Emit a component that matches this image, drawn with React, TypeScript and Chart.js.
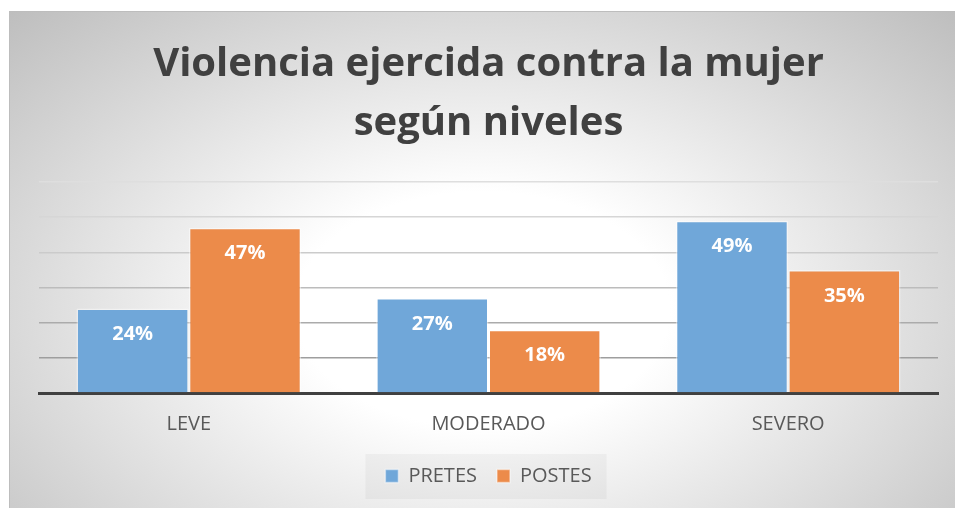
import React, { useEffect, useRef } from "react";
import { Chart, registerables } from "chart.js";

Chart.register(...registerables);

const categories = ["LEVE", "MODERADO", "SEVERO"];
const pretes = [24, 27, 49];
const postes = [47, 18, 35];
const seriesNames = ["PRETES", "POSTES"];
const titleLines = ["Violencia ejercida contra la mujer", "según niveles"];
const yMax = 60;
const yStep = 10;

const FONT = "'Open Sans', 'Liberation Sans', sans-serif";

const gridColors: Record<number, string> = {
  60: "#dedede",
  50: "#d6d6d6",
  40: "#cbcbcb",
  30: "#bcbcbc",
  20: "#ababab",
  10: "#9e9e9e",
  0: "#9e9e9e",
};

const dataLabelPlugin = {
  id: "dataLabels",
  afterDatasetsDraw(chart: any) {
    const ctx = chart.ctx;
    ctx.save();
    ctx.fillStyle = "#ffffff";
    ctx.font = `bold 20px ${FONT}`;
    ctx.textAlign = "center";
    ctx.textBaseline = "middle";
    chart.data.datasets.forEach((ds: any, di: number) => {
      const meta = chart.getDatasetMeta(di);
      meta.data.forEach((bar: any, i: number) => {
        ctx.fillText(ds.data[i] + "%", bar.x, bar.y + 26);
      });
    });
    ctx.restore();
  },
};

const legendBgPlugin = {
  id: "legendBg",
  beforeDraw(chart: any) {
    const lg = chart.legend;
    if (!lg || !lg.legendHitBoxes || !lg.legendHitBoxes.length) return;
    const boxes = lg.legendHitBoxes;
    const minX = Math.min(...boxes.map((b: any) => b.left));
    const maxX = Math.max(...boxes.map((b: any) => b.left + b.width));
    const cy = boxes[0].top + boxes[0].height / 2;
    const ctx = chart.ctx;
    ctx.save();
    ctx.fillStyle = "rgba(0,0,0,0.035)";
    ctx.fillRect(minX - 20, cy - 22, maxX - minX + 35, 45);
    ctx.restore();
  },
};

export default function App() {
  const ref = useRef<HTMLCanvasElement>(null);
  useEffect(() => {
    if (!ref.current) return;
    const chart = new Chart(ref.current, {
      type: "bar",
      data: {
        labels: categories,
        datasets: [
          {
            label: seriesNames[0],
            data: pretes,
            backgroundColor: "#70A7D9",
            borderColor: "rgba(255,255,255,0.45)",
            borderWidth: 1.5,
            categoryPercentage: 0.75,
            barPercentage: 1,
          },
          {
            label: seriesNames[1],
            data: postes,
            backgroundColor: "#EC8B4A",
            borderColor: "rgba(255,255,255,0.45)",
            borderWidth: 1.5,
            categoryPercentage: 0.75,
            barPercentage: 1,
          },
        ],
      },
      options: {
        animation: false,
        responsive: false,
        maintainAspectRatio: false,
        layout: { padding: { left: 39, right: 17, top: 0, bottom: 12 } },
        plugins: {
          title: {
            display: true,
            text: titleLines,
            color: "#404040",
            font: { family: FONT, size: 40, weight: "bold", lineHeight: 1.475 },
            padding: { top: 35, bottom: 29 },
          },
          legend: {
            display: true,
            position: "bottom",
            labels: {
              color: "#595959",
              font: { family: FONT, size: 20 },
              boxWidth: 13,
              boxHeight: 13,
              padding: 20,
            },
          },
          tooltip: { enabled: false },
        },
        scales: {
          x: {
            z: 1,
            grid: { display: false, drawTicks: false },
            border: { display: true, color: "#404040", width: 3 },
            ticks: {
              color: "#595959",
              font: { family: FONT, size: 20 },
              padding: 19,
            },
            afterFit: (scale: any) => {
              scale.height = 53;
            },
          },
          y: {
            min: 0,
            max: yMax,
            ticks: { display: false, stepSize: yStep },
            grid: {
              drawTicks: false,
              lineWidth: 1.5,
              color: (c: any) => gridColors[c.tick?.value] ?? "#cccccc",
            },
            border: { display: false },
            afterFit: (scale: any) => {
              scale.width = 0;
            },
          },
        },
      },
      plugins: [legendBgPlugin, dataLabelPlugin],
    });
    return () => chart.destroy();
  }, []);

  return (
    <div style={{ position: "absolute", left: 0, top: 0, width: 955, height: 508, background: "#ffffff", overflow: "hidden" }}>
      <div
        style={{
          position: "absolute",
          left: 9,
          top: 11,
          width: 946,
          height: 497,
          boxSizing: "border-box",
          borderTop: "1px solid #bdbdbd",
          borderLeft: "1px solid #bdbdbd",
          background: "radial-gradient(ellipse farthest-corner at 50% 60%, #ffffff 28%, #bebebe 100%)",
        }}
      />
      <canvas ref={ref} width={955} height={508} style={{ position: "absolute", left: 0, top: 0, width: 955, height: 508 }} />
    </div>
  );
}
